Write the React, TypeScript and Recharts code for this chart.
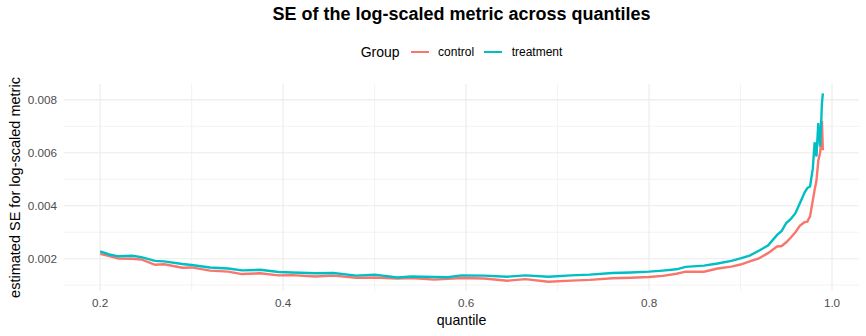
import React from "react";
import { LineChart, Line, XAxis, YAxis, ReferenceLine } from "recharts";

const quantiles = [
  0.2, 0.21, 0.22, 0.235, 0.245, 0.26, 0.27, 0.29, 0.3, 0.32, 0.34, 0.355, 0.375, 0.395, 0.41,
  0.435, 0.455, 0.48, 0.5, 0.525, 0.54, 0.565, 0.58, 0.595, 0.62, 0.645, 0.665, 0.69, 0.715,
  0.735, 0.76, 0.78, 0.8, 0.815, 0.83, 0.84, 0.86, 0.875, 0.89, 0.9, 0.91, 0.92, 0.93, 0.94,
  0.945, 0.95, 0.955, 0.96, 0.965, 0.97, 0.973, 0.976, 0.979, 0.981, 0.983, 0.985, 0.987,
  0.988, 0.989, 0.99,
];

const control = [
  0.00218, 0.0021, 0.00201, 0.002, 0.00197, 0.00177, 0.00179, 0.00166, 0.00167, 0.00155,
  0.00151, 0.00142, 0.00145, 0.00137, 0.00138, 0.00133, 0.00136, 0.00128, 0.00129, 0.00125,
  0.00127, 0.00121, 0.00124, 0.00127, 0.00125, 0.00117, 0.00123, 0.00113, 0.00117, 0.0012,
  0.00126, 0.00128, 0.00131, 0.00135, 0.00143, 0.00151, 0.00151, 0.00163, 0.0017, 0.00178,
  0.0019, 0.00201, 0.00221, 0.00246, 0.00248, 0.00262, 0.0028, 0.003, 0.00325, 0.00338,
  0.0034, 0.0036, 0.0042, 0.0046, 0.00495, 0.0057, 0.006, 0.0064, 0.0072, 0.0061,
];

const treatment = [
  0.00228, 0.00216, 0.00209, 0.00211, 0.00206, 0.00192, 0.0019, 0.0018, 0.00176, 0.00167,
  0.00163, 0.00156, 0.00158, 0.0015, 0.00148, 0.00145, 0.00146, 0.00136, 0.0014, 0.00129,
  0.00133, 0.00131, 0.0013, 0.00137, 0.00136, 0.00132, 0.00137, 0.00132, 0.00137, 0.0014,
  0.00146, 0.00148, 0.00151, 0.00155, 0.0016, 0.00169, 0.00174, 0.00182, 0.00192, 0.00201,
  0.00212, 0.0023, 0.0025, 0.0029, 0.00305, 0.00335, 0.0035, 0.00372, 0.0041, 0.0045,
  0.00467, 0.00473, 0.0054, 0.0064, 0.00586, 0.00712, 0.00624, 0.007, 0.00788, 0.00825,
];

const xTicks = [0.2, 0.4, 0.6, 0.8, 1.0];
const xMinor = [0.3, 0.5, 0.7, 0.9];
const yTicks = [0.002, 0.004, 0.006, 0.008];
const yMinor = [0.001, 0.003, 0.005, 0.007];

const groups = ["control", "treatment"];
const colors = ["#F8766D", "#00BFC4"];

const data = quantiles.map((q, i) => ({ q, control: control[i], treatment: treatment[i] }));

const FONT = '"Liberation Sans", Arial, Helvetica, sans-serif';
const GRID = "#EBEBEB";

export default function App() {
  return (
    <div style={{ position: "absolute", left: 0, top: 0, width: 866, height: 336, background: "#fff", fontFamily: FONT }}>
      <div
        style={{
          position: "absolute",
          left: 64,
          width: 795,
          top: 5,
          textAlign: "center",
          fontSize: 18,
          lineHeight: "18px",
          fontWeight: "bold",
          color: "#000",
        }}
      >
        SE of the log-scaled metric across quantiles
      </div>
      <div
        style={{
          position: "absolute",
          left: 64,
          width: 795,
          top: 44,
          height: 16,
          display: "flex",
          justifyContent: "center",
          alignItems: "center",
        }}
      >
        <span style={{ fontSize: 14, lineHeight: "16px", marginRight: 11 }}>Group</span>
        {groups.map((g, i) => (
          <React.Fragment key={g}>
            <span style={{ display: "inline-block", width: 18, height: 2.6, background: colors[i], marginRight: 9.5 }} />
            <span style={{ fontSize: 12, lineHeight: "16px", marginRight: i === 0 ? 10 : 0 }}>{g}</span>
          </React.Fragment>
        ))}
      </div>
      <LineChart
        width={866}
        height={336}
        data={data}
        margin={{ top: 84, right: 7, left: 0, bottom: 0 }}
        style={{ fontFamily: FONT }}
      >
        <XAxis
          dataKey="q"
          type="number"
          domain={[0.1605, 1.0295]}
          ticks={xTicks}
          tickFormatter={(v: number) => v.toFixed(1)}
          axisLine={false}
          tickLine={false}
          tickSize={0}
          tickMargin={8}
          height={45}
          tick={{ fill: "#4D4D4D", fontSize: 11.7 }}
          label={{ value: "quantile", position: "insideBottom", offset: 11, fill: "#000", fontSize: 14.2 }}
        />
        <YAxis
          type="number"
          domain={[0.00078, 0.0086]}
          ticks={yTicks}
          tickFormatter={(v: number) => v.toFixed(3)}
          axisLine={false}
          tickLine={false}
          tickSize={0}
          tickMargin={7}
          width={64}
          allowDataOverflow
          tick={{ fill: "#4D4D4D", fontSize: 11.7 }}
          label={{
            value: "estimated SE for log-scaled metric",
            angle: -90,
            position: "insideLeft",
            offset: 15,
            fill: "#000",
            fontSize: 14.5,
            style: { textAnchor: "middle" },
          }}
        />
        {xMinor.map((v) => (
          <ReferenceLine key={"xm" + v} x={v} stroke={GRID} strokeWidth={0.6} />
        ))}
        {yMinor.map((v) => (
          <ReferenceLine key={"ym" + v} y={v} stroke={GRID} strokeWidth={0.6} />
        ))}
        {xTicks.map((v) => (
          <ReferenceLine key={"xM" + v} x={v} stroke={GRID} strokeWidth={1.1} />
        ))}
        {yTicks.map((v) => (
          <ReferenceLine key={"yM" + v} y={v} stroke={GRID} strokeWidth={1.1} />
        ))}
        {groups.map((g, i) => (
          <Line
            key={g}
            dataKey={g}
            type="linear"
            stroke={colors[i]}
            strokeWidth={2.4}
            dot={false}
            activeDot={false}
            isAnimationActive={false}
          />
        ))}
      </LineChart>
    </div>
  );
}
